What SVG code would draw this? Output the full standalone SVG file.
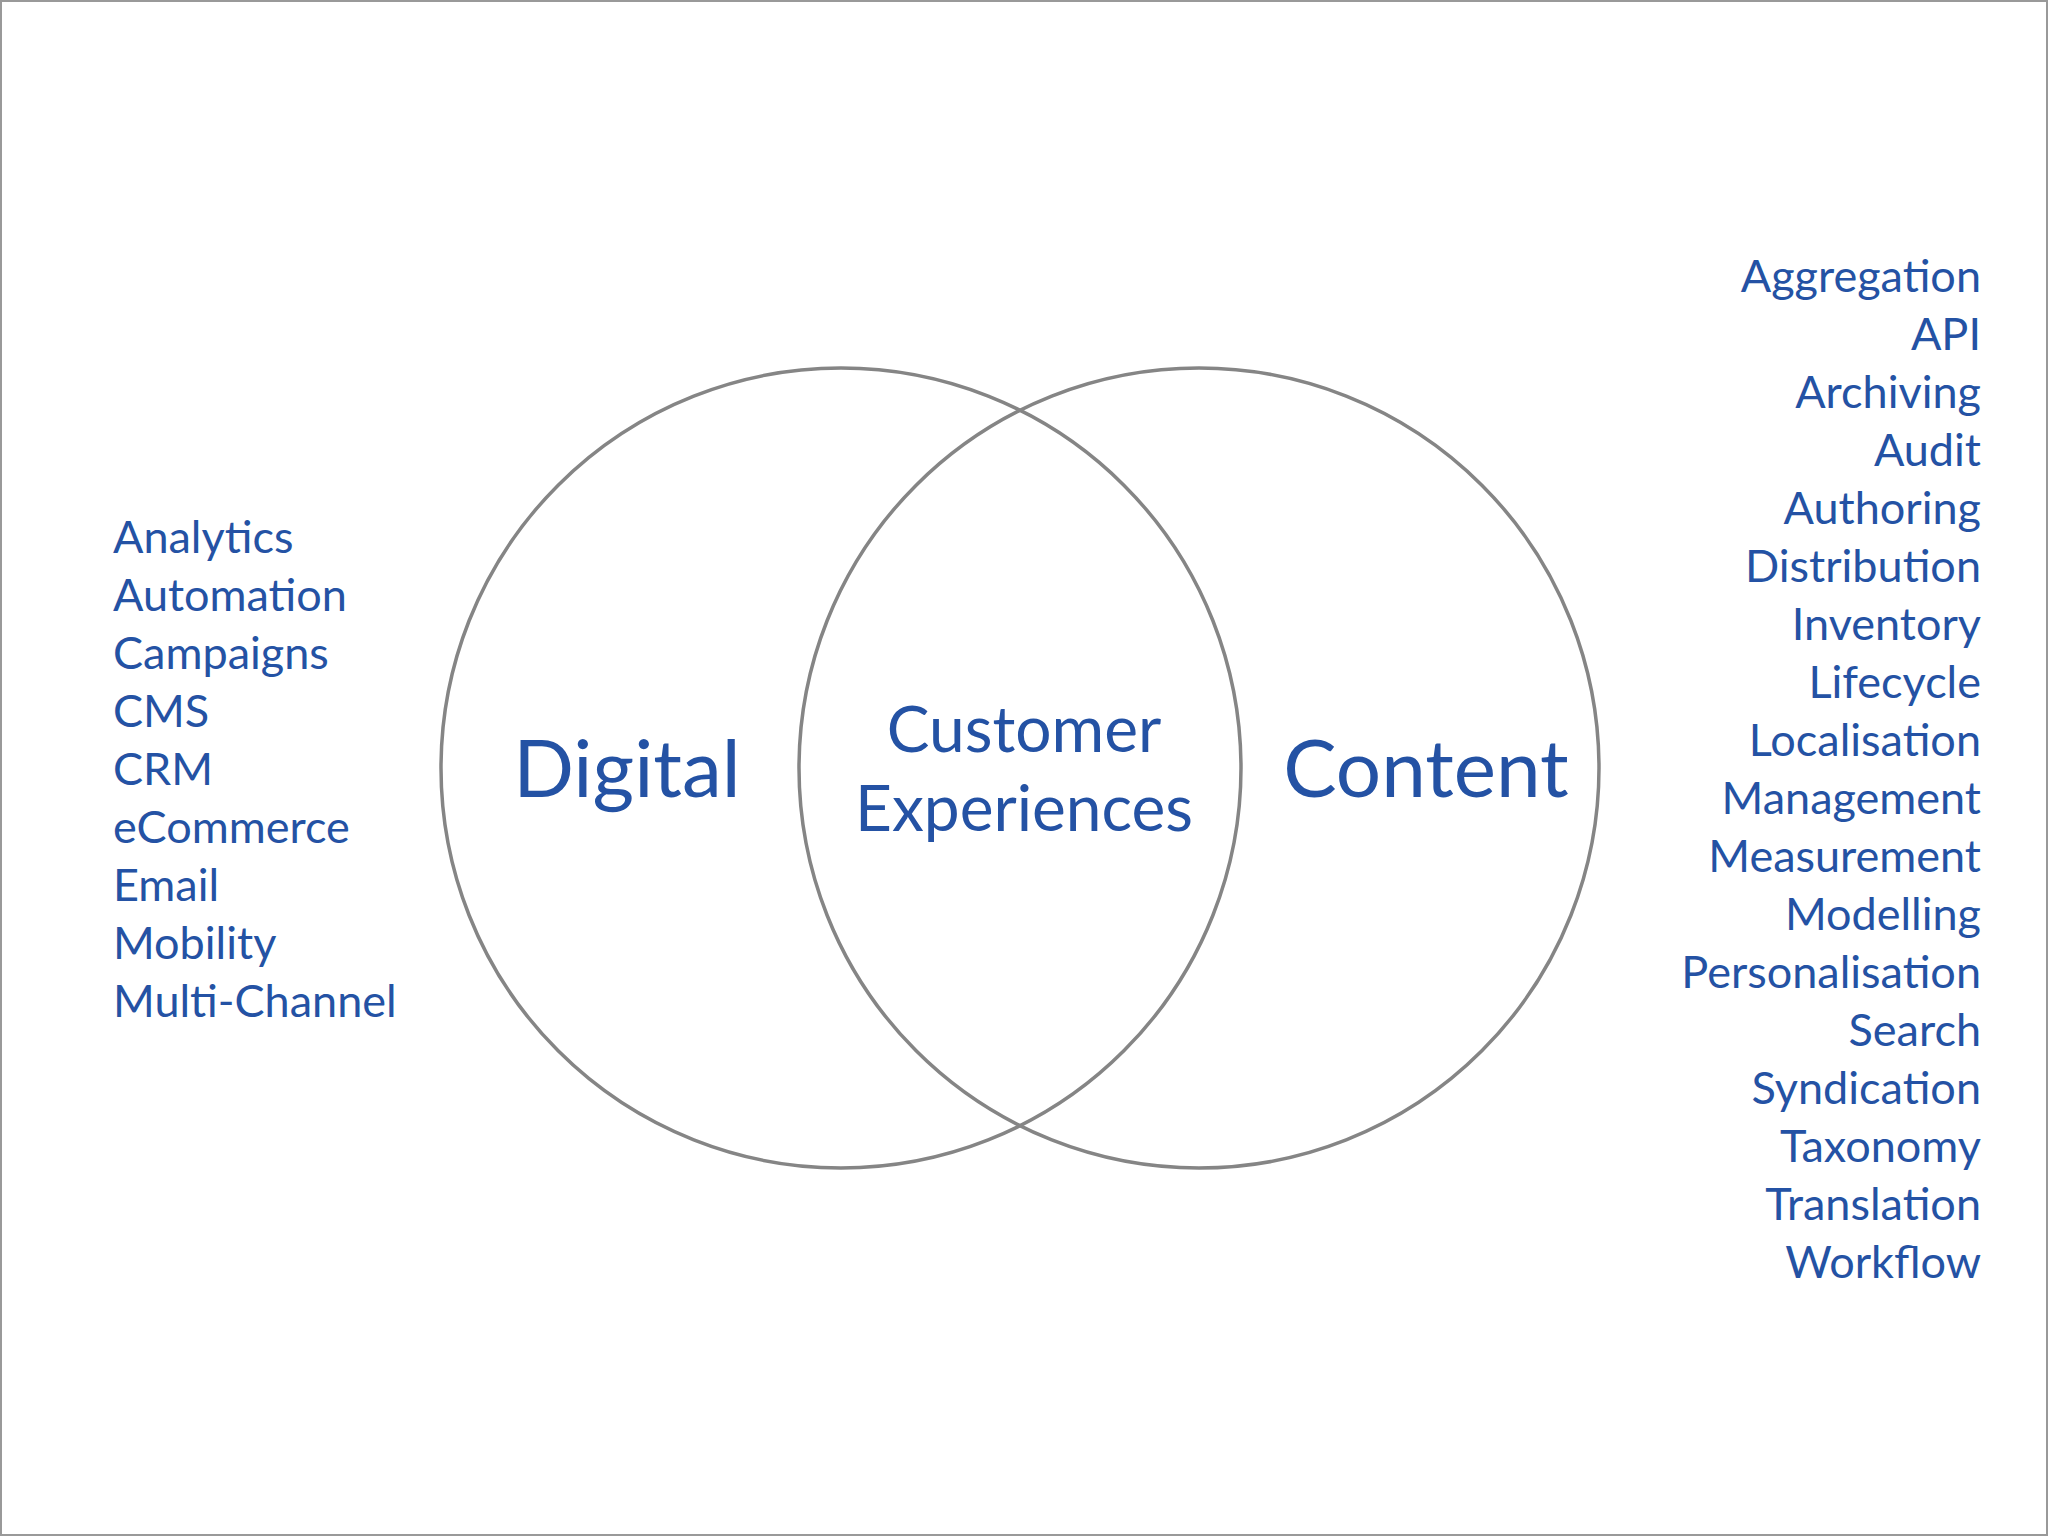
<svg xmlns="http://www.w3.org/2000/svg" width="2048" height="1536" viewBox="0 0 2048 1536">
<style>
.t{font-family:Lato,"Open Sans",sans-serif;fill:#2452a4}
.l{font-size:45px}
.r{font-size:45px;text-anchor:end}
.c{stroke:#858585;stroke-width:3.5;fill:none}
</style>
<rect x="1" y="1" width="2046" height="1534" fill="#fff" stroke="#999" stroke-width="2"/>
<g id="circles">
<circle class="c" cx="841" cy="768" r="400"/>
<circle class="c" cx="1199" cy="768" r="400"/>
</g>
<g id="labels">
<text class="t" x="627" y="797" font-size="80" text-anchor="middle">Digital</text>
<text class="t" x="1426" y="797" font-size="80" text-anchor="middle">Content</text>
<text class="t" x="1024" y="752" font-size="64" text-anchor="middle">Customer</text>
<text class="t" x="1024" y="831" font-size="64" text-anchor="middle">Experiences</text>
</g>
<g id="left" class="t l">
<text x="113" y="553">Analytics</text>
<text x="113" y="611">Automation</text>
<text x="113" y="669">Campaigns</text>
<text x="113" y="727">CMS</text>
<text x="113" y="785">CRM</text>
<text x="113" y="843">eCommerce</text>
<text x="113" y="901">Email</text>
<text x="113" y="959">Mobility</text>
<text x="113" y="1017">Multi-Channel</text>
</g>
<g id="right" class="t r">
<text x="1981" y="292">Aggregation</text>
<text x="1981" y="350">API</text>
<text x="1981" y="408">Archiving</text>
<text x="1981" y="466">Audit</text>
<text x="1981" y="524">Authoring</text>
<text x="1981" y="582">Distribution</text>
<text x="1981" y="640">Inventory</text>
<text x="1981" y="698">Lifecycle</text>
<text x="1981" y="756">Localisation</text>
<text x="1981" y="814">Management</text>
<text x="1981" y="872">Measurement</text>
<text x="1981" y="930">Modelling</text>
<text x="1981" y="988">Personalisation</text>
<text x="1981" y="1046">Search</text>
<text x="1981" y="1104">Syndication</text>
<text x="1981" y="1162">Taxonomy</text>
<text x="1981" y="1220">Translation</text>
<text x="1981" y="1278">Workflow</text>
</g>
</svg>
